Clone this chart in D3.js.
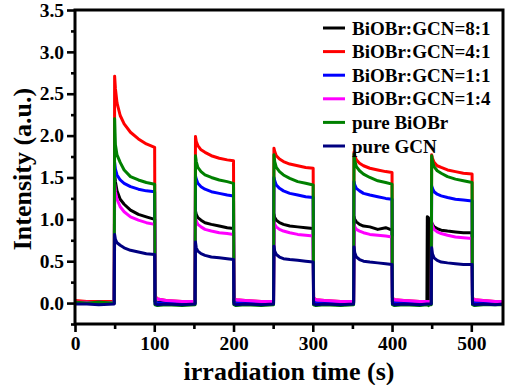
<!DOCTYPE html>
<html>
<head>
<meta charset="utf-8">
<script src="https://cdn.jsdelivr.net/npm/d3@7"></script>
</head>
<body style="margin:0; background:#fff">
<svg width="510" height="385"></svg>
<script>
// shared time axis (s)
const times = [
  0, 15, 30, 49.5,
  50, 51, 53, 57, 62, 70, 80, 90, 100.5,
  101, 104, 115, 135, 151.5,
  152, 153, 155, 159, 164, 172, 182, 192, 200,
  200.5, 203, 215, 235, 250.5,
  251, 252, 254, 258, 263, 271, 281, 291, 300.5,
  301, 304, 315, 335, 351.5,
  352, 353, 355, 359, 364, 372, 382, 392, 400,
  400.5, 403, 415, 435, 444, 444.5, 446, 446.5, 449.5,
  450, 451, 453, 457, 462, 470, 480, 490, 501,
  501.5, 504, 515, 530, 540
];

const ratio81 = [
  0.01, 0.00, 0.01, 0.01,
  1.55, 1.45, 1.34, 1.24, 1.18, 1.11, 1.06, 1.03, 1.00,
  0.02, 0.01, 0.00, 0.00, 0.00,
  1.10, 1.06, 1.02, 0.99, 0.96, 0.94, 0.92, 0.90, 0.89,
  0.01, 0.00, -0.01, 0.00, 0.00,
  1.06, 1.02, 0.99, 0.96, 0.94, 0.92, 0.91, 0.90, 0.89,
  0.01, 0.00, -0.01, 0.00, 0.00,
  1.03, 1.00, 0.97, 0.94, 0.92, 0.91, 0.88, 0.90, 0.87,
  0.01, 0.00, 0.00, 0.00, 0.00, 1.03, 1.02, 0.00, 0.00,
  0.96, 0.94, 0.91, 0.89, 0.87, 0.86, 0.85, 0.84, 0.84,
  0.01, 0.00, 0.00, 0.00, 0.00
];

const ratio41 = [
  0.03, 0.02, 0.02, 0.02,
  2.71, 2.56, 2.39, 2.24, 2.14, 2.04, 1.96, 1.90, 1.86,
  0.08, 0.05, 0.03, 0.02, 0.02,
  1.99, 1.93, 1.88, 1.83, 1.80, 1.76, 1.73, 1.71, 1.70,
  0.06, 0.04, 0.03, 0.02, 0.02,
  1.85, 1.81, 1.76, 1.72, 1.69, 1.66, 1.64, 1.62, 1.61,
  0.06, 0.04, 0.03, 0.02, 0.02,
  1.80, 1.76, 1.71, 1.67, 1.64, 1.61, 1.59, 1.57, 1.56,
  0.06, 0.04, 0.03, 0.02, 0.02, 0.02, 0.02, 0.02, 0.02,
  1.77, 1.73, 1.68, 1.64, 1.62, 1.59, 1.57, 1.55, 1.54,
  0.06, 0.04, 0.03, 0.02, 0.02
];

const ratio11 = [
  0.00, 0.00, 0.01, 0.00,
  1.68, 1.60, 1.53, 1.47, 1.43, 1.39, 1.36, 1.34, 1.33,
  0.02, 0.00, 0.00, -0.01, 0.00,
  1.52, 1.48, 1.43, 1.39, 1.36, 1.33, 1.31, 1.29, 1.28,
  0.02, 0.00, 0.00, -0.01, 0.00,
  1.50, 1.46, 1.41, 1.37, 1.34, 1.31, 1.29, 1.27, 1.26,
  0.02, 0.00, 0.00, -0.01, 0.00,
  1.45, 1.41, 1.37, 1.34, 1.31, 1.29, 1.27, 1.25, 1.24,
  0.02, 0.00, 0.00, -0.01, 0.00, 0.00, 0.00, 0.00, 0.00,
  1.40, 1.37, 1.33, 1.30, 1.28, 1.26, 1.24, 1.23, 1.22,
  0.02, 0.00, 0.00, 0.00, 0.00
];

const ratio14 = [
  0.01, 0.01, 0.00, 0.01,
  1.42, 1.33, 1.24, 1.15, 1.09, 1.03, 0.99, 0.96, 0.94,
  0.07, 0.05, 0.03, 0.02, 0.02,
  1.01, 0.98, 0.94, 0.91, 0.88, 0.86, 0.84, 0.83, 0.82,
  0.06, 0.04, 0.03, 0.02, 0.02,
  0.97, 0.94, 0.91, 0.88, 0.86, 0.84, 0.82, 0.81, 0.80,
  0.06, 0.04, 0.03, 0.02, 0.02,
  0.94, 0.91, 0.88, 0.86, 0.84, 0.82, 0.81, 0.80, 0.79,
  0.06, 0.04, 0.03, 0.02, 0.02, 0.02, 0.02, 0.02, 0.02,
  0.97, 0.92, 0.88, 0.85, 0.83, 0.81, 0.79, 0.78, 0.77,
  0.06, 0.04, 0.03, 0.02, 0.02
];

const pureBiOBr = [
  0.01, 0.00, 0.01, 0.00,
  2.20, 1.89, 1.77, 1.68, 1.59, 1.51, 1.47, 1.44, 1.42,
  -0.02, -0.03, -0.02, -0.03, -0.02,
  1.76, 1.69, 1.62, 1.57, 1.53, 1.50, 1.47, 1.45, 1.43,
  -0.02, -0.03, -0.02, -0.03, -0.02,
  1.77, 1.69, 1.62, 1.57, 1.53, 1.49, 1.45, 1.43, 1.41,
  -0.02, -0.03, -0.02, -0.03, -0.02,
  1.78, 1.70, 1.63, 1.58, 1.54, 1.50, 1.46, 1.44, 1.42,
  -0.02, -0.03, -0.02, -0.03, -0.02, -0.02, -0.03, -0.02, -0.02,
  1.76, 1.69, 1.63, 1.58, 1.55, 1.51, 1.48, 1.46, 1.44,
  -0.02, -0.03, -0.02, -0.02, -0.02
];

const pureGCN = [
  -0.01, -0.01, -0.02, -0.01,
  0.82, 0.76, 0.72, 0.69, 0.66, 0.63, 0.61, 0.59, 0.58,
  -0.01, -0.02, -0.01, -0.02, -0.01,
  0.73, 0.66, 0.62, 0.59, 0.57, 0.55, 0.54, 0.53, 0.52,
  -0.01, -0.02, -0.01, -0.02, -0.01,
  0.68, 0.62, 0.58, 0.55, 0.53, 0.52, 0.51, 0.50, 0.49,
  -0.01, -0.02, -0.01, -0.02, -0.01,
  0.67, 0.60, 0.55, 0.52, 0.50, 0.49, 0.48, 0.47, 0.46,
  -0.01, -0.02, -0.01, -0.02, -0.01, -0.01, -0.01, -0.01, -0.01,
  0.66, 0.59, 0.54, 0.51, 0.49, 0.48, 0.47, 0.46, 0.46,
  -0.01, -0.02, -0.01, -0.02, -0.01
];

const names = ["BiOBr:GCN=8:1", "BiOBr:GCN=4:1", "BiOBr:GCN=1:1", "BiOBr:GCN=1:4", "pure BiOBr", "pure GCN"];
const colors = ["#000000", "#ff0000", "#0000ff", "#ff00ff", "#008000", "#000080"];
const values = [ratio81, ratio41, ratio11, ratio14, pureBiOBr, pureGCN];

const xMajor = [0, 100, 200, 300, 400, 500];
const xMinor = [50, 150, 250, 350, 450];
const yMajor = [0, 0.5, 1.0, 1.5, 2.0, 2.5, 3.0, 3.5];
const yMinor = [-0.25, 0.25, 0.75, 1.25, 1.75, 2.25, 2.75, 3.25];

const width = 510;
const height = 385;
const margin = ({ top: 10, right: 7, bottom: 61, left: 75 });
const font = "'Liberation Serif', 'Times New Roman', serif";

const series = names.map((name, i) => ({
  name,
  color: colors[i],
  points: times.map((t, j) => [t, values[i][j]])
}));

const x = d3.scaleLinear()
  .domain([0, 540])
  .range([margin.left, width - margin.right]);

const y = d3.scaleLinear()
  .domain([-0.25, 3.5])
  .range([height - margin.bottom, margin.top]);

const svg = d3.select("svg")
  .attr("viewBox", [0, 0, width, height]);

const line = d3.line()
  .x(d => x(d[0]))
  .y(d => y(d[1]));

svg.append("g")
  .attr("fill", "none")
  .attr("stroke-width", 3)
  .attr("stroke-linejoin", "round")
  .selectAll("path")
  .data(series)
  .join("path")
  .attr("stroke", d => d.color)
  .attr("d", d => line(d.points));

// axes
const xAxis = g => g
  .attr("transform", `translate(0,${height - margin.bottom})`)
  .call(d3.axisBottom(x).tickValues(xMajor).tickSize(8).tickSizeOuter(0).tickPadding(4))
  .call(g => g.select(".domain").remove());

const xAxisMinor = g => g
  .attr("transform", `translate(0,${height - margin.bottom})`)
  .call(d3.axisBottom(x).tickValues(xMinor).tickSize(5).tickFormat(""))
  .call(g => g.select(".domain").remove());

const yAxis = g => g
  .attr("transform", `translate(${margin.left},0)`)
  .call(d3.axisLeft(y).tickValues(yMajor).tickSize(8).tickSizeOuter(0).tickPadding(3).tickFormat(d3.format(".1f")))
  .call(g => g.select(".domain").remove());

const yAxisMinor = g => g
  .attr("transform", `translate(${margin.left},0)`)
  .call(d3.axisLeft(y).tickValues(yMinor).tickSize(4).tickFormat(""))
  .call(g => g.select(".domain").remove());

[xAxis, xAxisMinor, yAxis, yAxisMinor].forEach(a => {
  svg.append("g").call(a)
    .call(g => g.selectAll("line").attr("stroke-width", 2.6))
    .call(g => g.selectAll("text")
      .style("font-family", font)
      .style("font-weight", "bold")
      .style("font-size", "19.5px")
      .attr("fill", "#000"));
});

// frame
svg.append("rect")
  .attr("x", margin.left)
  .attr("y", margin.top)
  .attr("width", width - margin.right - margin.left)
  .attr("height", height - margin.bottom - margin.top)
  .attr("fill", "none")
  .attr("stroke", "#000")
  .attr("stroke-width", 3);

// titles
svg.append("text")
  .attr("x", x(270))
  .attr("y", 380)
  .attr("text-anchor", "middle")
  .style("font-family", font)
  .style("font-weight", "bold")
  .style("font-size", "26px")
  .text("irradiation time (s)");

svg.append("text")
  .attr("transform", `translate(31,${y(1.6)}) rotate(-90)`)
  .attr("text-anchor", "middle")
  .style("font-family", font)
  .style("font-weight", "bold")
  .style("font-size", "26px")
  .text("Intensity (a.u.)");

// legend
const legend = svg.append("g")
  .selectAll("g")
  .data(series)
  .join("g")
  .attr("transform", (d, i) => `translate(323,${28 + i * 23.6})`);

legend.append("line")
  .attr("x1", 0)
  .attr("x2", 22)
  .attr("stroke", d => d.color)
  .attr("stroke-width", 3);

legend.append("text")
  .attr("x", 29)
  .attr("dy", "0.35em")
  .style("font-family", font)
  .style("font-weight", "bold")
  .style("font-size", "19px")
  .text(d => d.name);
</script>
</body>
</html>
